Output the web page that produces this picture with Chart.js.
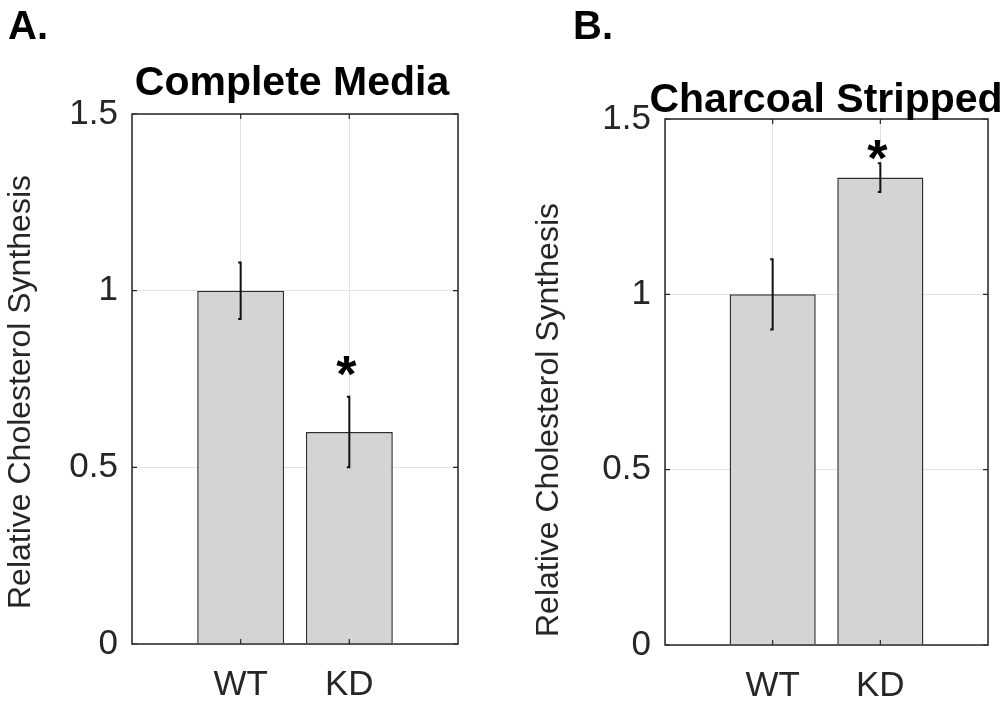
<!DOCTYPE html>
<html><head><meta charset="utf-8">
<script src="https://cdn.jsdelivr.net/npm/chart.js@4.4.1/dist/chart.umd.min.js"></script>
<style>
html,body{margin:0;padding:0;background:#fff;overflow:hidden}
#wrap{position:relative;width:1008px;height:702px}
canvas{position:absolute;top:0}
#cA{left:0}
#cB{left:520px}
</style></head><body>
<div id="wrap"><canvas id="cA" width="520" height="702"></canvas><canvas id="cB" width="488" height="702"></canvas></div>
<script>
// ---- data ----
const categories = ['WT', 'KD'];
const yTickValues = [0, 0.5, 1, 1.5];
const yTickLabels = ['0', '0.5', '1', '1.5'];
const completeMedia = [1.00, 0.60];
const completeMediaErr = [0.08, 0.10];
const completeMediaStar = [null, 0.785];
const charcoalStripped = [1.00, 1.333];
const charcoalStrippedErr = [0.10, 0.041];
const charcoalStrippedStar = [null, 1.41];

const INK = '#262626';
const FONT = '"Liberation Sans", Arial, Helvetica, sans-serif';

const panelPlugin = {
  id: 'panelDecor',
  afterDatasetsDraw(chart, args, o) {
    const ctx = chart.ctx;
    const xs = chart.scales.x, ys = chart.scales.y;
    const a = chart.chartArea;
    const meta = chart.getDatasetMeta(0);
    ctx.save();
    // error bars
    ctx.strokeStyle = '#111';
    ctx.lineWidth = 2;
    meta.data.forEach((el, i) => {
      const v = o.values[i], e = o.errors[i];
      const x = el.x;
      const yt = ys.getPixelForValue(v + e), yb = ys.getPixelForValue(v - e);
      ctx.beginPath();
      ctx.moveTo(x, yt); ctx.lineTo(x, yb);
      ctx.moveTo(x - 2.5, yt); ctx.lineTo(x + 1, yt);
      ctx.moveTo(x - 2.5, yb); ctx.lineTo(x + 1, yb);
      ctx.stroke();
      if (o.stars[i] != null) {
        ctx.fillStyle = '#000';
        ctx.font = 'bold 52px ' + FONT;
        ctx.textAlign = 'center';
        ctx.textBaseline = 'alphabetic';
        ctx.fillText('*', x - 3, ys.getPixelForValue(o.stars[i]) + 25);
      }
    });
    // box
    ctx.strokeStyle = INK;
    ctx.lineWidth = 1.5;
    ctx.strokeRect(a.left, a.top, a.right - a.left, a.bottom - a.top);
    // inward ticks
    ctx.lineWidth = 1.2;
    ctx.beginPath();
    yTickValues.forEach(v => {
      const y = ys.getPixelForValue(v);
      ctx.moveTo(a.left, y); ctx.lineTo(a.left + 5, y);
      ctx.moveTo(a.right, y); ctx.lineTo(a.right - 5, y);
    });
    categories.forEach((c, i) => {
      const x = xs.getPixelForValue(i + 1);
      ctx.moveTo(x, a.bottom); ctx.lineTo(x, a.bottom - 5);
      ctx.moveTo(x, a.top); ctx.lineTo(x, a.top + 5);
    });
    ctx.stroke();
    ctx.restore();
  },
  afterDraw(chart, args, o) {
    const ctx = chart.ctx;
    ctx.save();
    ctx.fillStyle = '#000';
    ctx.textBaseline = 'alphabetic';
    ctx.font = 'bold 40px ' + FONT;
    ctx.textAlign = 'left';
    ctx.fillText(o.panel, o.panelX, 39);
    ctx.font = 'bold 41px ' + FONT;
    ctx.textAlign = 'center';
    ctx.fillText(o.title, o.titleX, o.titleY);
    ctx.fillStyle = INK;
    ctx.font = '32px ' + FONT;
    ctx.translate(o.yTitleX, o.yTitleY);
    ctx.rotate(-Math.PI / 2);
    ctx.textBaseline = 'middle';
    ctx.fillText(o.yTitle, 0, 0);
    ctx.restore();
  }
};

function makePanel(id, values, errors, stars, cfg) {
  return new Chart(document.getElementById(id), {
    type: 'bar',
    data: {
      datasets: [{
        data: values.map((v, i) => ({ x: i + 1, y: v })),
        backgroundColor: '#d4d4d4',
        borderColor: '#2e2e2e',
        borderWidth: 1.5,
        categoryPercentage: 0.8,
        barPercentage: 1.0
      }]
    },
    options: {
      responsive: false,
      animation: false,
      devicePixelRatio: 1,
      layout: { padding: cfg.padding },
      plugins: {
        legend: { display: false },
        tooltip: { enabled: false },
        panelDecor: {
          values, errors, stars,
          panel: cfg.panel, panelX: cfg.panelX,
          title: cfg.title, titleX: cfg.titleX, titleY: cfg.titleY,
          yTitle: 'Relative Cholesterol Synthesis', yTitleX: cfg.yTitleX, yTitleY: cfg.yTitleY
        }
      },
      scales: {
        x: {
          type: 'linear', min: 0, max: 3, offset: false,
          afterFit: s => { s.height = cfg.xHeight; },
          afterBuildTicks: s => { s.ticks = [0, 1, 2, 3].map(v => ({ value: v })); },
          ticks: {
            autoSkip: false, maxRotation: 0,
            callback: v => categories[v - 1] || '',
            color: INK, padding: 20,
            font: { family: FONT, size: 35 }
          },
          grid: { color: '#e3e3e3', lineWidth: 1, drawTicks: false, offset: false },
          border: { display: false }
        },
        y: {
          min: 0, max: 1.5,
          afterFit: s => { s.width = cfg.yWidth; },
          afterBuildTicks: s => { s.ticks = yTickValues.map(v => ({ value: v })); },
          ticks: {
            callback: v => yTickLabels[yTickValues.indexOf(v)],
            color: INK, padding: 14,
            font: { family: FONT, size: 35 }
          },
          grid: { color: '#e3e3e3', lineWidth: 1, drawTicks: false },
          border: { display: false }
        }
      }
    },
    plugins: [panelPlugin]
  });
}

makePanel('cA', completeMedia, completeMediaErr, completeMediaStar, {
  padding: { top: 114, right: 62, left: 0, bottom: 0 },
  yWidth: 132, xHeight: 58,
  panel: 'A.', panelX: 8,
  title: 'Complete Media', titleX: 292, titleY: 95,
  yTitleX: 21, yTitleY: 392
});
makePanel('cB', charcoalStripped, charcoalStrippedErr, charcoalStrippedStar, {
  padding: { top: 119, right: 19, left: 0, bottom: 0 },
  yWidth: 145, xHeight: 57,
  panel: 'B.', panelX: 53,
  title: 'Charcoal Stripped', titleX: 306, titleY: 112,
  yTitleX: 29, yTitleY: 420
});
</script>
</body></html>
